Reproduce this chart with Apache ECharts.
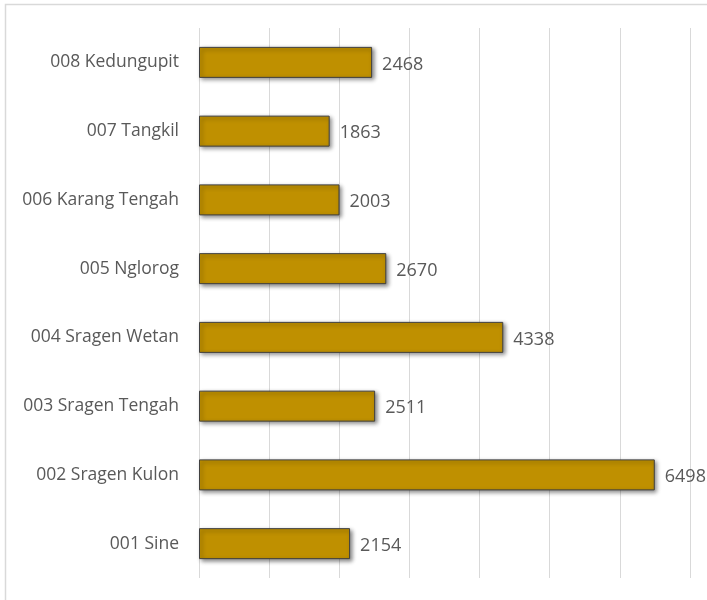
<!DOCTYPE html>
<html>
<head>
<meta charset="utf-8">
<script src="https://cdn.jsdelivr.net/npm/echarts@6/dist/echarts.min.js"></script>
<style>
html,body{margin:0;padding:0;background:#fff;}
#chart{width:707px;height:600px;}
</style>
</head>
<body>
<div id="chart"></div>
<script>
var categories = ["001 Sine","002 Sragen Kulon","003 Sragen Tengah","004 Sragen Wetan","005 Nglorog","006 Karang Tengah","007 Tangkil","008 Kedungupit"];
var values = [2154, 6498, 2511, 4338, 2670, 2003, 1863, 2468];
var axisMax = 7000;
var axisStep = 1000;

var chart = echarts.init(document.getElementById('chart'), null, {renderer:'canvas'});
var font = '"Open Sans", "Liberation Sans", sans-serif';
chart.setOption({
  animation: false,
  backgroundColor: '#ffffff',
  graphic: [{
    type: 'rect',
    shape: {x: 5.5, y: 4.5, width: 720, height: 620},
    style: {fill: 'none', stroke: '#d9d9d9', lineWidth: 1.5},
    silent: true
  }],
  grid: {left: 199, right: 17, top: 28, bottom: 22, containLabel: false},
  xAxis: {
    type: 'value', min: 0, max: axisMax, interval: axisStep,
    axisLabel: {show: false},
    axisLine: {show: false},
    axisTick: {show: false},
    splitLine: {show: true, lineStyle: {color: '#d9d9d9', width: 1}}
  },
  yAxis: {
    type: 'category', data: categories,
    axisLine: {show: false},
    axisTick: {show: false},
    axisLabel: {color: '#595959', fontSize: 17.5, fontFamily: font, margin: 20, padding: [3, 0, 0, 0]}
  },
  series: [{
    type: 'bar',
    data: values,
    barWidth: 31,
    itemStyle: {
      color: '#bf9000',
      borderColor: '#404040',
      borderWidth: 1,
      shadowColor: 'rgba(0,0,0,0.45)',
      shadowBlur: 4,
      shadowOffsetX: 2,
      shadowOffsetY: 2
    },
    label: {
      show: true, position: 'right', distance: 10, offset: [0, 2],
      color: '#595959', fontSize: 18, fontFamily: font
    }
  }]
});
</script>
</body>
</html>
